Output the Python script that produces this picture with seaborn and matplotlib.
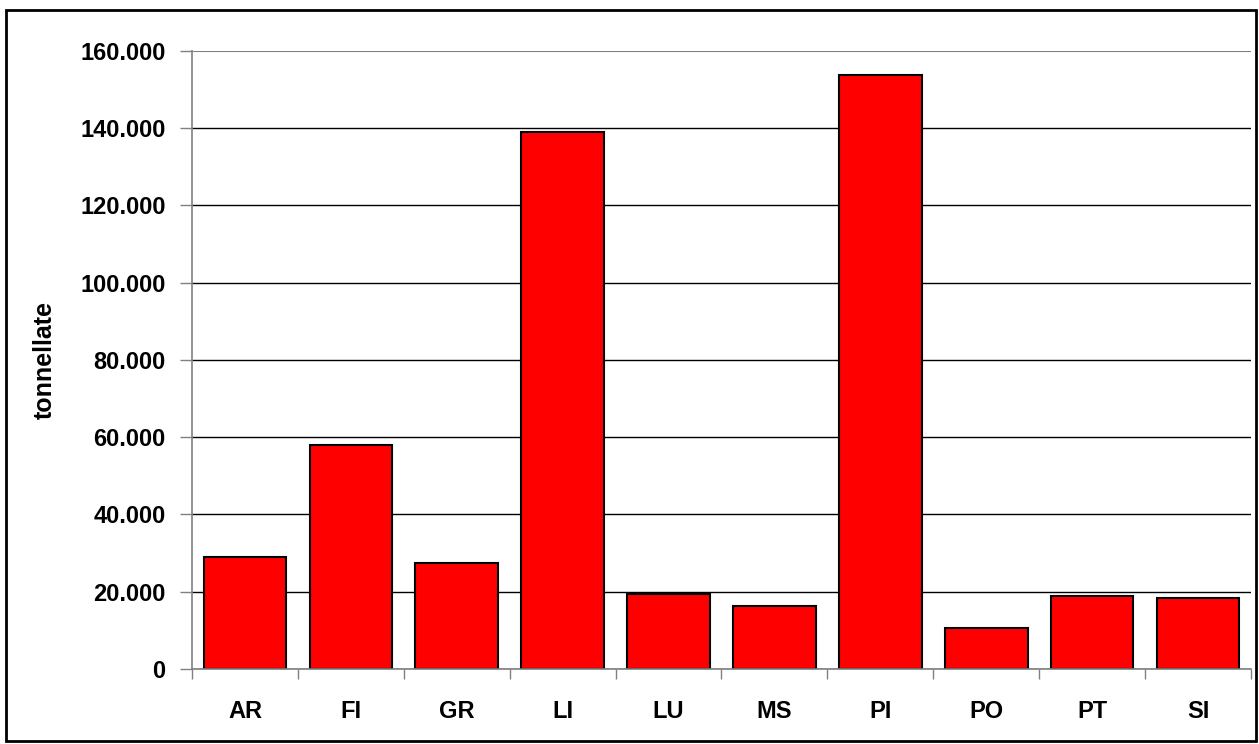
import matplotlib
matplotlib.use('Agg')
import matplotlib.pyplot as plt
import seaborn as sns
import pandas as pd
from matplotlib.patches import Rectangle
from matplotlib.ticker import FuncFormatter

# dati (tonnellate per provincia)
province = ['AR', 'FI', 'GR', 'LI', 'LU', 'MS', 'PI', 'PO', 'PT', 'SI']
tonnellate = [29100, 58100, 27400, 139100, 19300, 16300, 153700, 10600, 18800, 18400]
y_ticks = [0, 20000, 40000, 60000, 80000, 100000, 120000, 140000, 160000]

df = pd.DataFrame({'provincia': province, 'tonnellate': tonnellate})

sns.set_style('white')
plt.rcParams['font.family'] = ['Liberation Sans', 'DejaVu Sans']
plt.rcParams['font.weight'] = 'bold'
plt.rcParams['text.color'] = 'black'
plt.rcParams['axes.labelcolor'] = 'black'
plt.rcParams['xtick.color'] = 'black'
plt.rcParams['ytick.color'] = 'black'

fig = plt.figure(figsize=(12.59, 7.44), dpi=100)
ax = fig.add_axes([0.1525, 0.1008, 0.8411, 0.8307])

sns.barplot(data=df, x='provincia', y='tonnellate', color='#ff0000',
            saturation=1, edgecolor='black', linewidth=1.5, width=0.78, ax=ax)

ax.set_ylim(0, 160000)
ax.set_xlim(-0.5, len(province) - 0.5)
ax.set_yticks(y_ticks)
ax.yaxis.set_major_formatter(FuncFormatter(lambda v, p: f"{int(v):,}".replace(',', '.')))

# griglia orizzontale nera
ax.yaxis.grid(True, color='black', linewidth=1)
ax.set_axisbelow(True)
ax.get_ygridlines()[-1].set_color('#808080')
ax.get_ygridlines()[-1].set_linewidth(1.5)

for s in ['top', 'right']:
    ax.spines[s].set_visible(False)
ax.spines['left'].set_color('#808080')
ax.spines['bottom'].set_color('#808080')
ax.spines['left'].set_linewidth(1.2)
ax.spines['bottom'].set_linewidth(1.2)

# tick x tra le categorie
ax.set_xticks([i - 0.5 for i in range(len(province) + 1)], minor=True)
ax.tick_params(axis='x', which='minor', length=7, width=1, color='#808080', direction='out', bottom=True)
ax.tick_params(axis='x', which='major', length=0, pad=22, labelsize=17, labelcolor='black')
ax.tick_params(axis='y', length=9, width=1, color='#808080', direction='out', left=True, pad=10,
               labelsize=17, labelcolor='black')

ax.set_xlabel('')
ax.set_ylabel('tonnellate', fontsize=18, fontweight='bold', color='black')
ax.yaxis.set_label_coords(-0.1275, 0.5)

# cornice esterna
fig.patches.append(Rectangle((6 / 1259, 3 / 744), 1250 / 1259, 731 / 744,
                             transform=fig.transFigure, fill=False,
                             edgecolor='black', linewidth=2))

fig.savefig('out.png', dpi=100)
